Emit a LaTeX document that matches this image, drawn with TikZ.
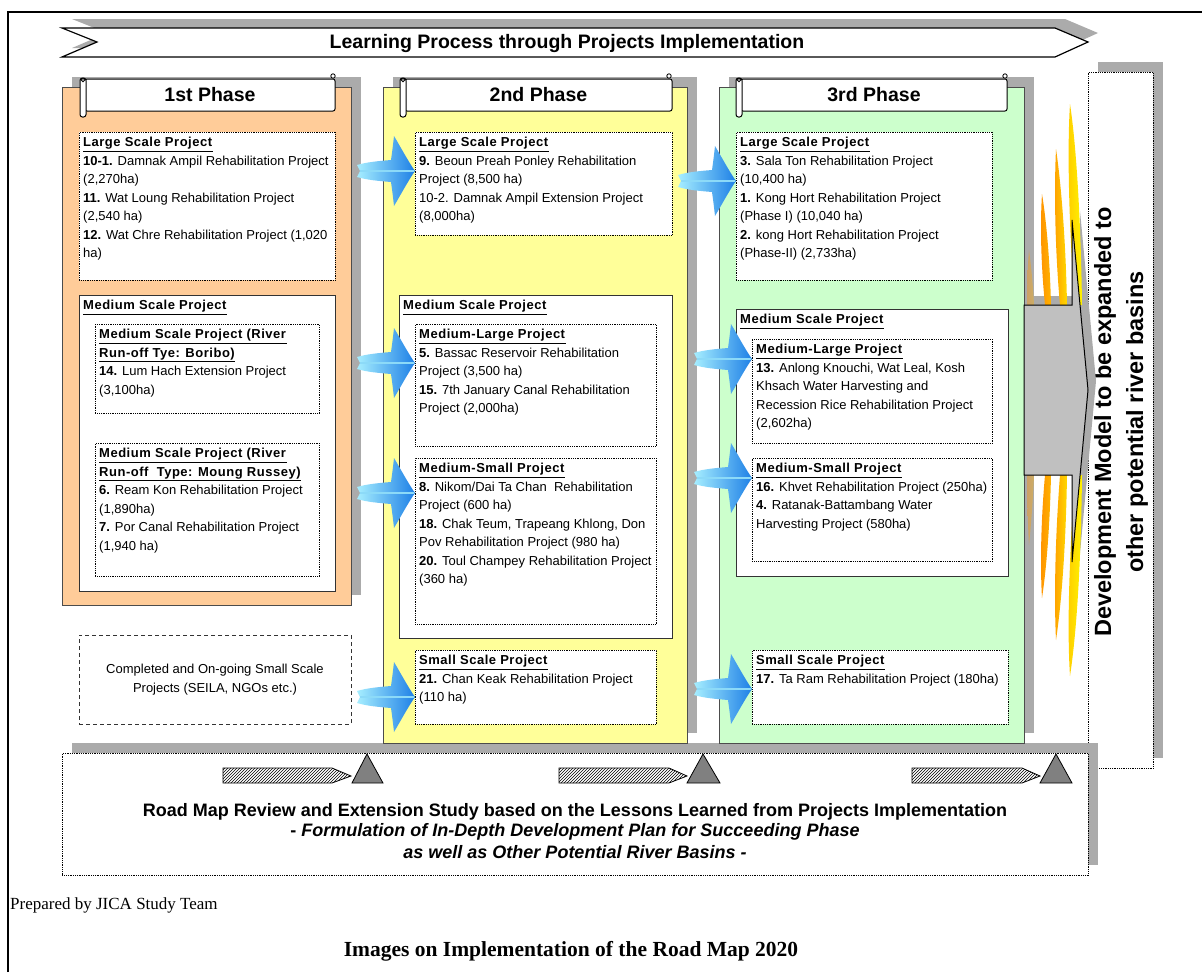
\documentclass[tikz,border=0pt]{standalone}
\usepackage{fontspec}
\setmainfont{Liberation Sans}
\newfontfamily\timesfont{Liberation Serif}
\usetikzlibrary{patterns}
\definecolor{phaseone}{HTML}{FFCC99}
\definecolor{phasetwo}{HTML}{FFFF99}
\definecolor{phasethree}{HTML}{CCFFCC}
\definecolor{shadowgray}{HTML}{ABABAB}
\definecolor{arrowlight}{HTML}{A6EEFF}
\definecolor{arrowdark}{HTML}{1E80E6}
\definecolor{bigarrowgray}{HTML}{C0C0C0}
\newcommand{\bodyfont}{\fontsize{13}{18.5}\selectfont}
\newcommand{\headfont}{\fontsize{19.5}{22}\selectfont\bfseries}
\newcommand{\devfont}{\fontsize{23.5}{32}\selectfont\bfseries}
\newcommand{\roadfont}{\fontsize{18}{20}\selectfont\bfseries}
\newcommand{\ttl}[1]{\underline{\textbf{\addfontfeature{LetterSpace=4}#1}}}
\tikzstyle{panel}=[draw=black!70, line width=1.2pt, anchor=north west, inner sep=0pt]
\tikzstyle{header}=[draw, fill=white, line width=1pt, inner sep=0pt, rounded corners=2pt, font=\headfont]
\tikzstyle{dotbox}=[draw, densely dotted, line width=0.8pt, fill=white, anchor=north west, inner sep=0pt]
\tikzstyle{solidbox}=[draw=black!80, line width=1.2pt, fill=white, anchor=north west, inner sep=0pt]
\tikzstyle{dashbox}=[draw=black!80, dash pattern=on 4pt off 3pt, line width=1pt, align=center, font=\bodyfont]
\tikzstyle{txt}=[anchor=north west, inner sep=0pt, xshift=4pt, yshift=-5pt, align=left, font=\bodyfont]
\tikzstyle{roll}=[draw, fill=white, line width=1pt, rounded corners=2.5pt]
\tikzstyle{hatcharrow}=[draw, line width=0.8pt, pattern=north east lines]
\tikzstyle{milestone}=[draw, line width=0.8pt, fill=gray]
\tikzstyle{flameA}=[left color=orange!85!yellow, right color=orange!60!yellow]
\tikzstyle{flameB}=[left color=orange!75!yellow, right color=yellow!70!orange]
\tikzstyle{flameC}=[left color=yellow!60!orange, right color=yellow!90!orange]
\newcommand{\bluearrow}[2]{%
  \coordinate (#1tip) at (#1.west |- 0,#2);
  \shade[left color=arrowlight, right color=arrowdark, shift={(#1tip)}]
    (0,0) .. controls (-7,-10) and (-15,-25) .. (-21,-35)
    .. controls (-22,-26) and (-23,-18) .. (-24,-11)
    .. controls (-36,-10) and (-48,-9) .. (-58,-6) -- (-55,0) -- (-58,6)
    .. controls (-48,9) and (-36,10) .. (-24,11)
    .. controls (-23,18) and (-22,26) .. (-21,35)
    .. controls (-15,25) and (-7,10) .. (0,0) -- cycle;
  \draw[cyan!45!white, line width=1.5pt, shift={(#1tip)}] (-55,0) -- (-1,0);
}

\begin{document}
\begin{tikzpicture}[x=1pt, y=-1pt]
    \useasboundingbox (0,0) rectangle (1202,972);
    \draw[line width=1.5pt] (8,972) -- (8,12) -- (1202,12);

    % banner
    \fill[shadowgray] (72,19) -- (1065,19) -- (1098,33) -- (1065,48) -- (72,48) -- (107,33) -- cycle;
    \draw[fill=white, line width=1.2pt] (62,28) -- (1055,28) -- (1088,42) -- (1055,57) -- (62,57) -- (97,42) -- cycle;
    \node[font=\headfont] (title) at (567,43) {Learning Process through Projects Implementation};

    % development model
    \fill[shadowgray] (1098,62) rectangle (1163,758);
    \node[dotbox, minimum width=65pt, minimum height=696pt] (D) at (1088,72) {};
    \node[rotate=90, align=center, font=\devfont] (Dt) at (1121,422) {Development Model to be expanded to\\other potential river basins};

    % phases
    \fill[shadowgray] (72,77) rectangle (361,595);
    \fill[shadowgray] (393,77) rectangle (697,733);
    \fill[shadowgray] (729,77) rectangle (1034,733);
    \fill[shadowgray] (72,743) rectangle (1098,865);
    \node[panel, fill=phaseone, minimum width=289pt, minimum height=518pt] (P1) at (62,87) {};
    \node[panel, fill=phasetwo, minimum width=304pt, minimum height=656pt] (P2) at (383,87) {};
    \node[panel, fill=phasethree, minimum width=305pt, minimum height=656pt] (P3) at (719,87) {};

    % big arrow
    \fill[shadowgray] (1032,296) -- (1080,296) -- (1080,211) -- (1096,381) -- (1080,553) -- (1080,466) -- (1032,466) -- cycle;
    \shade[flameA, opacity=0.4] (1027,305) .. controls (1027,280) and (1028,262) .. (1029,250) .. controls (1031,265) and (1033,285) .. (1034,305) -- cycle;
    \shade[flameA] (1045,305) .. controls (1041,265) and (1040,225) .. (1042,194) .. controls (1047,225) and (1050,265) .. (1051,305) -- cycle;
    \shade[flameB] (1060,305) .. controls (1055,250) and (1054,190) .. (1056,149) .. controls (1062,190) and (1066,250) .. (1067,305) -- cycle;
    \shade[flameC] (1075,305) .. controls (1069,230) and (1067,150) .. (1070,104) .. controls (1077,150) and (1081,230) .. (1082,305) -- cycle;
    \shade[flameA, opacity=0.4] (1027,475) .. controls (1027,500) and (1028,528) .. (1029,545) .. controls (1031,525) and (1033,500) .. (1034,475) -- cycle;
    \shade[flameA] (1045,475) .. controls (1041,520) and (1040,565) .. (1042,598) .. controls (1047,565) and (1050,520) .. (1051,475) -- cycle;
    \shade[flameB] (1060,475) .. controls (1055,540) and (1054,600) .. (1056,640) .. controls (1062,600) and (1066,540) .. (1067,475) -- cycle;
    \shade[flameC] (1075,475) .. controls (1069,560) and (1067,630) .. (1070,676) .. controls (1077,630) and (1081,560) .. (1082,475) -- cycle;
    \draw[fill=bigarrowgray, line width=1pt] (1024,305) -- (1072,305) -- (1072,220) -- (1088,390) -- (1072,562) -- (1072,475) -- (1024,475) -- cycle;

    % headers
    \node[header, minimum width=250pt, minimum height=32pt] (H1) at (210,95) {1st Phase};
    \draw[roll] (80,78) rectangle (86,117);
    \draw[fill=white, line width=0.8pt] (83,80) circle (1.8pt);
    \draw[fill=white, line width=0.8pt] (333,76) circle (2.2pt);
    \node[header, minimum width=267pt, minimum height=32pt] (H2) at (538.5,95) {2nd Phase};
    \draw[roll] (400,78) rectangle (406,117);
    \draw[fill=white, line width=0.8pt] (403,80) circle (1.8pt);
    \draw[fill=white, line width=0.8pt] (669,76) circle (2.2pt);
    \node[header, minimum width=266pt, minimum height=32pt] (H3) at (874,95) {3rd Phase};
    \draw[roll] (736,78) rectangle (742,117);
    \draw[fill=white, line width=0.8pt] (739,80) circle (1.8pt);
    \draw[fill=white, line width=0.8pt] (1005,76) circle (2.2pt);

    % 1st phase
    \node[dotbox, minimum width=256pt, minimum height=148pt] (L1) at (79,132) {};
    \node[txt] (L1t) at (L1.north west) {\ttl{Large Scale Project}\\
        \textbf{10-1.} Damnak Ampil Rehabilitation Project\\(2,270ha)\\
        \textbf{11.} Wat Loung Rehabilitation Project\\(2,540 ha)\\
        \textbf{12.} Wat Chre Rehabilitation Project (1,020\\ha)};
    \node[solidbox, minimum width=256pt, minimum height=296pt] (M1) at (79,295) {};
    \node[txt] (M1t) at (M1.north west) {\ttl{Medium Scale Project}};
    \node[dotbox, minimum width=224pt, minimum height=89pt] (M1a) at (95,324) {};
    \node[txt] (M1at) at (M1a.north west) {\ttl{Medium Scale Project (River}\\
        \ttl{Run-off Tye: Boribo)}\\
        \textbf{14.} Lum Hach Extension Project\\(3,100ha)};
    \node[dotbox, minimum width=224pt, minimum height=133pt] (M1b) at (95,443) {};
    \node[txt] (M1bt) at (M1b.north west) {\ttl{Medium Scale Project (River}\\
        \ttl{Run-off\ \ Type: Moung Russey)}\\
        \textbf{6.} Ream Kon Rehabilitation Project\\(1,890ha)\\
        \textbf{7.} Por Canal Rehabilitation Project\\(1,940 ha)};
    \node[dashbox, minimum width=272pt, minimum height=89pt] (C1) at (215,679.5) {Completed and On-going Small Scale\\Projects (SEILA, NGOs etc.)};

    % 2nd phase
    \node[dotbox, minimum width=257pt, minimum height=103pt] (L2) at (415,132) {};
    \node[txt] (L2t) at (L2.north west) {\ttl{Large Scale Project}\\
        \textbf{9.} Beoun Preah Ponley Rehabilitation\\Project (8,500 ha)\\
        10-2. Damnak Ampil Extension Project\\(8,000ha)};
    \node[solidbox, minimum width=273pt, minimum height=343pt] (M2) at (399,295) {};
    \node[txt] (M2t) at (M2.north west) {\ttl{Medium Scale Project}};
    \node[dotbox, minimum width=241pt, minimum height=122pt] (M2a) at (415,324) {};
    \node[txt] (M2at) at (M2a.north west) {\ttl{Medium-Large Project}\\
        \textbf{5.} Bassac Reservoir Rehabilitation\\Project (3,500 ha)\\
        \textbf{15.} 7th January Canal Rehabilitation\\Project (2,000ha)};
    \node[dotbox, minimum width=241pt, minimum height=166pt] (M2b) at (415,458) {};
    \node[txt] (M2bt) at (M2b.north west) {\ttl{Medium-Small Project}\\
        \textbf{8.} Nikom/Dai Ta Chan\ \ Rehabilitation\\Project (600 ha)\\
        \textbf{18.} Chak Teum, Trapeang Khlong, Don\\Pov Rehabilitation Project (980 ha)\\
        \textbf{20.} Toul Champey Rehabilitation Project\\(360 ha)};
    \node[dotbox, minimum width=241pt, minimum height=74pt] (S2) at (415,650) {};
    \node[txt] (S2t) at (S2.north west) {\ttl{Small Scale Project}\\
        \textbf{21.} Chan Keak Rehabilitation Project\\(110 ha)};

    % 3rd phase
    \node[dotbox, minimum width=256pt, minimum height=148pt] (L3) at (736,132) {};
    \node[txt] (L3t) at (L3.north west) {\ttl{Large Scale Project}\\
        \textbf{3.} Sala Ton Rehabilitation Project\\(10,400 ha)\\
        \textbf{1.} Kong Hort Rehabilitation Project\\(Phase I) (10,040 ha)\\
        \textbf{2.} kong Hort Rehabilitation Project\\(Phase-II) (2,733ha)};
    \node[solidbox, minimum width=272pt, minimum height=267pt] (M3) at (736,309) {};
    \node[txt] (M3t) at (M3.north west) {\ttl{Medium Scale Project}};
    \node[dotbox, minimum width=240pt, minimum height=104pt] (M3a) at (752,339) {};
    \node[txt] (M3at) at (M3a.north west) {\ttl{Medium-Large Project}\\
        \textbf{13.} Anlong Knouchi, Wat Leal, Kosh\\Khsach Water Harvesting and\\
        Recession Rice Rehabilitation Project\\(2,602ha)};
    \node[dotbox, minimum width=240pt, minimum height=103pt] (M3b) at (752,458) {};
    \node[txt] (M3bt) at (M3b.north west) {\ttl{Medium-Small Project}\\
        \textbf{16.} Khvet Rehabilitation Project (250ha)\\
        \textbf{4.} Ratanak-Battambang Water\\Harvesting Project (580ha)};
    \node[dotbox, minimum width=256pt, minimum height=74pt] (S3) at (752,650) {};
    \node[txt] (S3t) at (S3.north west) {\ttl{Small Scale Project}\\
        \textbf{17.} Ta Ram Rehabilitation Project (180ha)};

    % arrows between phases
    \bluearrow{L2}{171}
    \bluearrow{M2a}{363}
    \bluearrow{M2b}{493}
    \bluearrow{S2}{697}
    \bluearrow{L3}{181}
    \bluearrow{M3a}{359}
    \bluearrow{M3b}{478}
    \bluearrow{S3}{689}

    % road map review
    \node[dotbox, minimum width=1026pt, minimum height=122pt] (B) at (62,753) {};
    \draw[hatcharrow] (223,768) -- (332,768) -- (351,776) -- (332,783) -- (223,783) -- cycle;
    \draw[milestone] (352,783) -- (367,754) -- (383,783) -- cycle;
    \draw[hatcharrow] (559,768) -- (669,768) -- (687,776) -- (669,783) -- (559,783) -- cycle;
    \draw[milestone] (687,783) -- (703,754) -- (720,783) -- cycle;
    \draw[hatcharrow] (912,768) -- (1022,768) -- (1040,776) -- (1022,783) -- (912,783) -- cycle;
    \draw[milestone] (1040,783) -- (1056,754) -- (1072,783) -- cycle;
    \node[font=\roadfont] (B1) at (575,812) {Road Map Review and Extension Study based on the Lessons Learned from Projects Implementation};
    \node[font=\roadfont] (B2) at (575,832) {- \textit{Formulation of In-Depth Development Plan for Succeeding Phase}};
    \node[font=\roadfont] (B3) at (575,852) {\textit{as well as Other Potential River Basins -}};

    \node[anchor=west, inner sep=0pt, font=\timesfont\fontsize{17}{20}\selectfont] (prep) at (10,905) {Prepared by JICA Study Team};
    \node[font=\timesfont\fontsize{21.5}{24}\selectfont\bfseries] (cap) at (571,951) {Images on Implementation of the Road Map 2020};
\end{tikzpicture}
\end{document}
